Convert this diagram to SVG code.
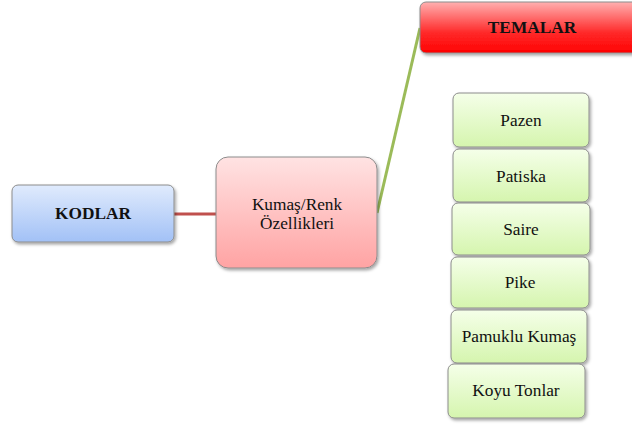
<svg xmlns="http://www.w3.org/2000/svg" width="632" height="424" viewBox="0 0 632 424">
<defs>
<linearGradient id="gBlue" x1="0" y1="0" x2="0" y2="1"><stop offset="0" stop-color="#e0ebfd"/><stop offset="1" stop-color="#a2c1f6"/></linearGradient>
<linearGradient id="gPink" x1="0" y1="0" x2="0" y2="1"><stop offset="0" stop-color="#ffe3e3"/><stop offset="1" stop-color="#ffa3a3"/></linearGradient>
<linearGradient id="gRed" x1="0" y1="0" x2="0" y2="1"><stop offset="0" stop-color="#ffb0b0"/><stop offset="0.6" stop-color="#ff2a2a"/><stop offset="1" stop-color="#ff0000"/></linearGradient>
<linearGradient id="gGreen" x1="0" y1="0" x2="0" y2="1"><stop offset="0" stop-color="#f5ffe9"/><stop offset="1" stop-color="#d5f5ae"/></linearGradient>
<filter id="sh" x="-10%" y="-10%" width="130%" height="140%"><feDropShadow dx="1.5" dy="2" stdDeviation="1.5" flood-color="#000" flood-opacity="0.35"/></filter>
</defs>
<style>
.box{stroke:#8c8c8c;stroke-width:1;filter:url(#sh)}
text{font-family:'Liberation Serif','Times New Roman',serif;fill:#111;text-anchor:middle;font-size:17.3px}
.b{font-weight:bold}
</style>
<g id="connectors">
<line x1="174" y1="214" x2="216" y2="214" stroke="#c0504d" stroke-width="3"/>
<line x1="377" y1="213" x2="420" y2="28" stroke="#9bbb59" stroke-width="3"/>
</g>
<g id="kodlar"><rect class="box" x="12" y="185" width="162" height="57" rx="6" fill="url(#gBlue)"/><text class="b" x="93" y="219">KODLAR</text></g>
<g id="kumas"><rect class="box" x="216" y="157" width="161" height="111" rx="12" fill="url(#gPink)"/><text x="297" y="210">Kumaş/Renk</text><text x="297" y="229">Özellikleri</text></g>
<g id="temalar"><rect class="box" x="420" y="2" width="226" height="51" rx="6" fill="url(#gRed)"/><text class="b" x="532" y="33">TEMALAR</text></g>
<g id="pazen"><rect class="box" x="453" y="93" width="136" height="54" rx="6" fill="url(#gGreen)"/><text x="521" y="126">Pazen</text></g>
<g id="patiska"><rect class="box" x="453" y="149" width="136" height="53" rx="6" fill="url(#gGreen)"/><text x="521" y="182">Patiska</text></g>
<g id="saire"><rect class="box" x="452" y="203" width="138" height="52" rx="6" fill="url(#gGreen)"/><text x="521" y="235">Saire</text></g>
<g id="pike"><rect class="box" x="451" y="257" width="138" height="51" rx="6" fill="url(#gGreen)"/><text x="520" y="288">Pike</text></g>
<g id="pamuklu"><rect class="box" x="451" y="310" width="136" height="53" rx="6" fill="url(#gGreen)"/><text x="519" y="342">Pamuklu Kumaş</text></g>
<g id="koyu"><rect class="box" x="448" y="364" width="137" height="54" rx="6" fill="url(#gGreen)"/><text x="516" y="396">Koyu Tonlar</text></g>
</svg>
